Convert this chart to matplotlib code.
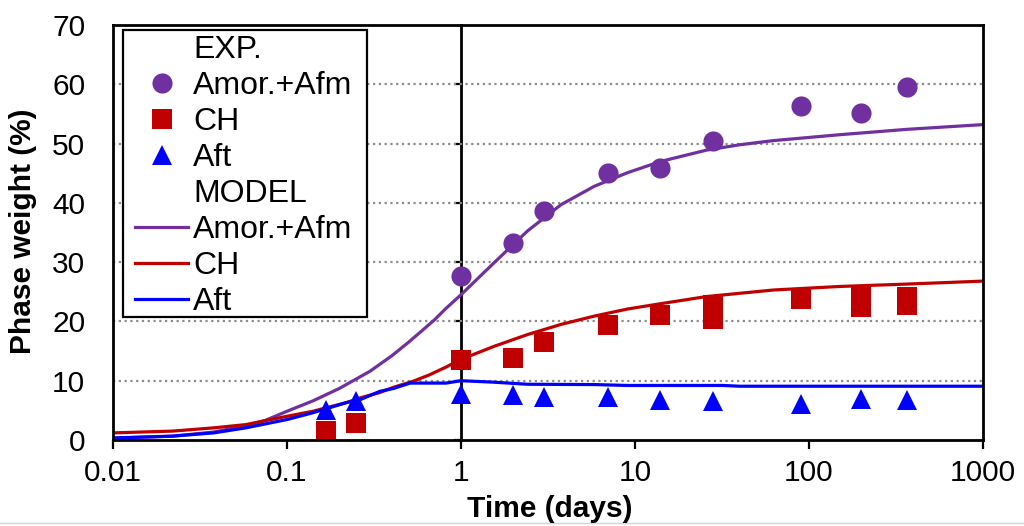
import matplotlib
matplotlib.use("Agg")
import matplotlib.pyplot as plt
from matplotlib.lines import Line2D
from matplotlib.patches import Rectangle

plt.rcParams['font.family'] = ['Liberation Sans', 'DejaVu Sans']

# ---------------- data ----------------
# experimental points
t_amor = [1, 2, 3, 7, 14, 28, 90, 200, 365]
amor_exp = [27.6, 33.3, 38.6, 45.1, 45.8, 50.4, 56.3, 55.2, 59.6]

t_ch = [0.167, 0.25, 1, 2, 3, 7, 14, 28, 28, 90, 200, 200, 365, 365]
ch_exp = [1.5, 2.8, 13.5, 13.8, 16.5, 19.4, 21.1, 22.8, 20.4, 23.7, 24.2, 22.5, 24.2, 22.7]

t_aft = [0.167, 0.25, 1, 2, 3, 7, 14, 28, 90, 200, 365]
aft_exp = [5.0, 6.5, 7.7, 7.55, 7.2, 7.2, 6.7, 6.5, 6.1, 6.9, 6.7]

# model curves
t_mod_amor = [0.01, 0.022, 0.038, 0.058, 0.075, 0.1, 0.141, 0.2, 0.3, 0.4, 0.5, 0.6, 0.7,
              0.82, 1.0, 1.55, 2.42, 3.76, 5.84, 9.08, 14.1, 25.8, 40, 62.4, 151, 365, 1000]
amor_mod = [0.3, 0.65, 1.35, 2.4, 3.3, 4.85, 6.6, 8.7, 11.6, 14.2, 16.5, 18.5, 20.2,
            22.2, 24.5, 29.9, 35.3, 39.7, 42.8, 45.1, 47.0, 48.9, 49.8, 50.5, 51.5, 52.4, 53.2]

t_mod_ch = [0.01, 0.022, 0.038, 0.058, 0.1, 0.141, 0.219, 0.263, 0.341, 0.41, 0.53, 0.66,
            0.82, 1.0, 1.55, 2.42, 3.76, 5.84, 9.08, 14.1, 25.8, 62.4, 151, 365, 1000]
ch_mod = [1.2, 1.5, 2.05, 2.6, 4.0, 4.85, 6.3, 7.1, 8.0, 8.9, 9.9, 11.0,
          12.3, 13.6, 15.8, 17.8, 19.5, 20.9, 22.1, 23.0, 24.2, 25.3, 25.9, 26.3, 26.8]

t_mod_aft = [0.01, 0.022, 0.038, 0.058, 0.1, 0.141, 0.219, 0.263, 0.341, 0.41, 0.51,
             0.636, 0.82, 1.0, 1.55, 2.42, 5.84, 9.08, 32, 40, 1000]
aft_mod = [0.35, 0.65, 1.2, 2.05, 3.45, 4.6, 6.3, 6.8, 8.2, 8.7, 9.6,
           9.6, 9.6, 10.0, 9.75, 9.4, 9.35, 9.2, 9.2, 9.07, 9.07]

x_ticks = [0.01, 0.1, 1, 10, 100, 1000]
x_ticklabels = ['0.01', '0.1', '1', '10', '100', '1000']
y_ticks = [0, 10, 20, 30, 40, 50, 60, 70]

legend_labels = ['EXP.', 'Amor.+Afm', 'CH', 'Aft', 'MODEL', 'Amor.+Afm', 'CH', 'Aft']

PURPLE = '#7030A0'
RED = '#C00000'
BLUE = '#0000FF'
FS = 21.5
LFS = 23

# ---------------- figure ----------------
W, H = 1024, 526
fig = plt.figure(figsize=(W / 100, H / 100), dpi=100)
ax = fig.add_axes([113 / W, 1 - 440 / H, 870 / W, 415 / H])

ax.set_xscale('log')
ax.set_xlim(0.01, 1000)
ax.set_ylim(0, 70)

# grid
for yv in y_ticks[1:-1]:
    ax.axhline(yv, color='#8c8c8c', lw=1.6, ls=(0, (1, 1.6)), zorder=1)

# model lines
l_amor, = ax.plot(t_mod_amor, amor_mod, color=PURPLE, lw=2.3, zorder=3)
l_ch, = ax.plot(t_mod_ch, ch_mod, color=RED, lw=2.3, zorder=3)
l_aft, = ax.plot(t_mod_aft, aft_mod, color=BLUE, lw=2.3, zorder=3)

# experimental markers
m_amor, = ax.plot(t_amor, amor_exp, ls='none', marker='o', ms=14.5, color=PURPLE, mew=0, zorder=4)
m_ch, = ax.plot(t_ch, ch_exp, ls='none', marker='s', ms=15, color=RED, mew=0, zorder=4)
m_aft, = ax.plot(t_aft, aft_exp, ls='none', marker='^', ms=14.5, color=BLUE, mew=0, zorder=4)

# axes styling
for s in ax.spines.values():
    s.set_linewidth(2)
    s.set_color('black')
    s.set_zorder(5)

ax.set_xticks(x_ticks)
ax.set_xticklabels(x_ticklabels)
ax.xaxis.set_minor_locator(matplotlib.ticker.NullLocator())
ax.tick_params(axis='x', direction='out', length=6.5, width=1.6, labelsize=FS, pad=7)
ax.set_yticks(y_ticks)
ax.set_yticklabels([str(v) for v in y_ticks])
ax.tick_params(axis='y', length=0, labelsize=FS, pad=20)

# vertical axis crossing at x = 1 (axes fraction 0.4)
sec = ax.secondary_yaxis(0.4)
sec.set_yticks(y_ticks[:-1])
sec.tick_params(axis='y', direction='out', length=5, width=1.6, labelleft=False, labelright=False)
sec.spines['left'].set_linewidth(2)

# axis labels
fig.text(550 / W, 1 - 517 / H, 'Time (days)', ha='center', va='baseline',
         fontsize=FS, fontweight='bold')
fig.text(23 / W, 1 - 231 / H, 'Phase weight (%)', ha='center', va='center',
         rotation=90, fontsize=FS, fontweight='bold')

# legend box (drawn separately so the padding can differ horizontally / vertically)
box = Rectangle((123 / W, 1 - 317 / H), (367 - 123) / W, (317 - 30) / H,
                transform=fig.transFigure, facecolor='white', edgecolor='black',
                lw=1.6, zorder=5.5)
ax.add_artist(box)
box.set_clip_on(False)

blank = Line2D([], [], ls='none')
handles = [blank, m_amor, m_ch, m_aft, blank, l_amor, l_ch, l_aft]
leg = ax.legend(handles, legend_labels, loc='upper left',
                bbox_to_anchor=(135 / W, 1 - 35 / H), bbox_transform=fig.transFigure,
                borderaxespad=0, fontsize=LFS, handlelength=1.66, handletextpad=0.16,
                borderpad=0, labelspacing=0.19, numpoints=1, frameon=False)
leg.set_zorder(6)

# light bottom border line of the screenshot
fig.add_artist(Line2D([0, 1], [1 - 522.5 / H, 1 - 522.5 / H], transform=fig.transFigure,
                      color='#d4d4d4', lw=1))

fig.savefig('out.png', dpi=100)
